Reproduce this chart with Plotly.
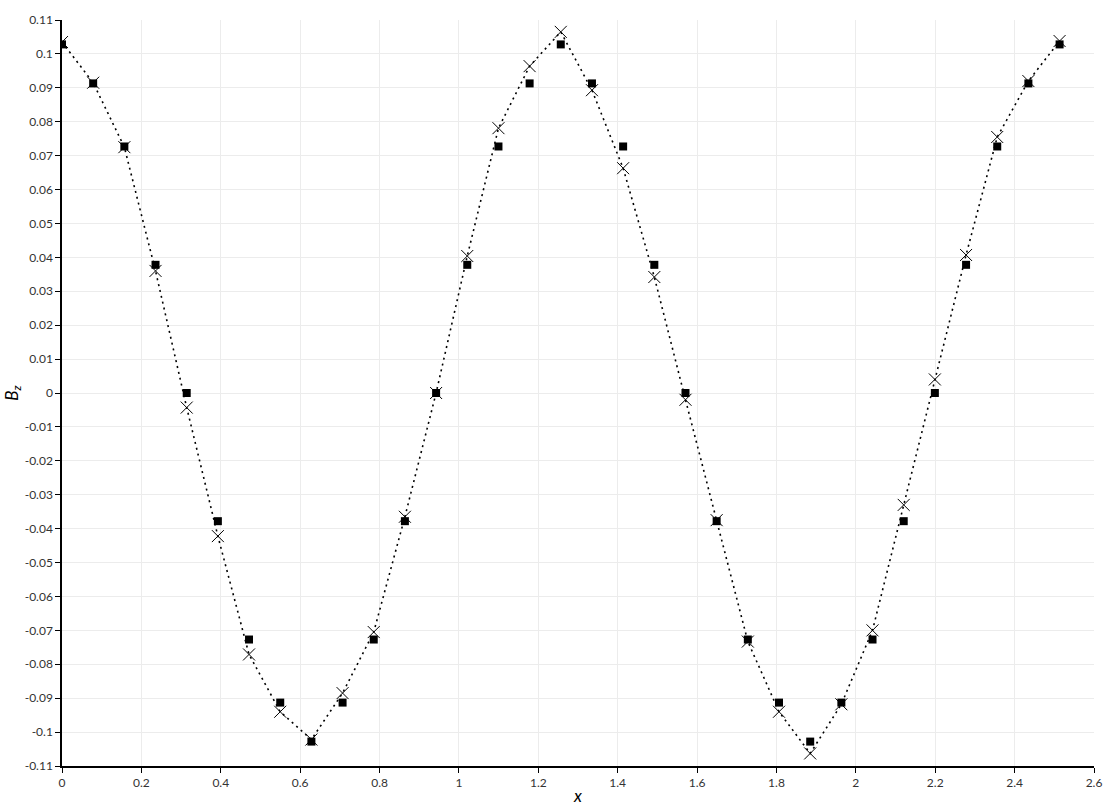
import plotly.graph_objects as go

# --- data ---
# sample positions: k * pi/40, k = 0..32
x_vals = [0.0, 0.0785, 0.1571, 0.2356, 0.3142, 0.3927, 0.4712, 0.5498, 0.6283,
          0.7069, 0.7854, 0.8639, 0.9425, 1.0210, 1.0996, 1.1781, 1.2566,
          1.3352, 1.4137, 1.4923, 1.5708, 1.6493, 1.7279, 1.8064, 1.8850,
          1.9635, 2.0420, 2.1206, 2.1991, 2.2777, 2.3562, 2.4347, 2.5133]

# exact solution (filled squares)
bz_exact = [0.1028, 0.0913, 0.0727, 0.0378, 0.0, -0.0378, -0.0727, -0.0913, -0.1028,
            -0.0913, -0.0727, -0.0378, 0.0, 0.0378, 0.0727, 0.0913, 0.1028,
            0.0913, 0.0727, 0.0378, 0.0, -0.0378, -0.0727, -0.0913, -0.1028,
            -0.0913, -0.0727, -0.0378, 0.0, 0.0378, 0.0727, 0.0913, 0.1028]

# numerical solution (crosses + dotted line)
bz_num = [0.1035, 0.0915, 0.0725, 0.0360, -0.0043, -0.0422, -0.0771, -0.0940, -0.1022,
          -0.0885, -0.0705, -0.0365, 0.0, 0.0404, 0.0781, 0.0964, 0.1065,
          0.0893, 0.0663, 0.0342, -0.0020, -0.0375, -0.0733, -0.0940, -0.1063,
          -0.0918, -0.0700, -0.0330, 0.0040, 0.0407, 0.0755, 0.0920, 0.1038]

x_ticks = [0, 0.2, 0.4, 0.6, 0.8, 1, 1.2, 1.4, 1.6, 1.8, 2, 2.2, 2.4, 2.6]
x_ticktext = ["0", "0.2", "0.4", "0.6", "0.8", "1", "1.2", "1.4", "1.6", "1.8",
              "2", "2.2", "2.4", "2.6"]
y_ticks = [-0.11, -0.1, -0.09, -0.08, -0.07, -0.06, -0.05, -0.04, -0.03, -0.02, -0.01,
           0, 0.01, 0.02, 0.03, 0.04, 0.05, 0.06, 0.07, 0.08, 0.09, 0.1, 0.11]
y_ticktext = ["-0.11", "-0.1", "-0.09", "-0.08", "-0.07", "-0.06", "-0.05", "-0.04",
              "-0.03", "-0.02", "-0.01", "0", "0.01", "0.02", "0.03", "0.04", "0.05",
              "0.06", "0.07", "0.08", "0.09", "0.1", "0.11"]

FONT = "URW Gothic, Century Gothic, Lato, sans-serif"

fig = go.Figure()

fig.add_trace(go.Scatter(
    x=x_vals, y=bz_num, mode="lines",
    line=dict(color="black", width=1.6, dash="2px,4px"),
    showlegend=False, hoverinfo="skip",
))
fig.add_trace(go.Scatter(
    x=x_vals, y=bz_exact, mode="markers",
    marker=dict(symbol="square", size=8, color="black"),
    showlegend=False,
))
fig.add_trace(go.Scatter(
    x=x_vals, y=bz_num, mode="markers",
    marker=dict(symbol="x-thin-open", size=12, color="black",
                line=dict(color="black", width=1)),
    showlegend=False,
))

axis_common = dict(
    showgrid=True, gridcolor="#ececec", gridwidth=1,
    showline=True, linecolor="black", linewidth=1.5,
    ticks="outside", ticklen=5, tickcolor="black",
    zeroline=False, mirror=False, automargin=False,
    tickfont=dict(family=FONT, size=12, color="#333"),
)

fig.update_xaxes(
    range=[0, 2.6], tickvals=x_ticks, ticktext=x_ticktext,
    title=dict(text="<i>x</i>", font=dict(family=FONT, size=17, color="black"), standoff=2),
    **axis_common,
)
fig.update_yaxes(
    range=[-0.11, 0.11], tickvals=y_ticks, ticktext=y_ticktext,
    title=dict(text="<i>B<sub>z</sub></i>", font=dict(family=FONT, size=17, color="black"), standoff=2),
    **axis_common,
)

fig.update_layout(
    width=1114, height=806,
    margin=dict(l=62, r=20, t=20, b=40),
    plot_bgcolor="white", paper_bgcolor="white",
    font=dict(family=FONT),
)

# page body has a default 8px margin; drop it so the figure sits at the corner
fig.write_html(
    "out.html",
    config={"displayModeBar": False},
    post_script="document.body.style.margin='0';document.body.style.overflow='hidden';",
)
